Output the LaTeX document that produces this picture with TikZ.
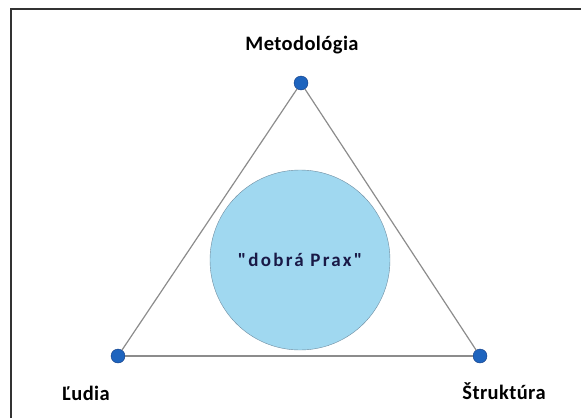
\documentclass[tikz,border=0pt]{standalone}
\usepackage{fontspec}
\setmainfont{Carlito}
\newfontfamily\spacedfont[LetterSpace=2]{Carlito}
\newfontfamily\widefont[LetterSpace=12]{Carlito}
\usetikzlibrary{positioning}
\definecolor{dotblue}{RGB}{30,100,190}
\definecolor{dotedge}{RGB}{20,60,130}
\definecolor{praxfill}{RGB}{160,216,240}
\definecolor{praxedge}{RGB}{110,140,160}
\definecolor{praxtext}{RGB}{25,25,70}
\begin{document}
\begin{tikzpicture}
  [x=1pt,y=-1pt,
    vertex/.style={
      circle, draw=dotedge, fill=dotblue,
      inner sep=0pt, minimum size=14pt
    },
    side/.style={
      draw=black!45, line width=1.2pt
    },
    caption/.style={
      font=\spacedfont\bfseries\fontsize{20.5}{22}\selectfont
    }
  ]
  \useasboundingbox (0,0) rectangle (581,418);
  \draw[line width=1.3pt, black!80] (11,418) -- (11,9) -- (581,9);
  \node[circle, draw=praxedge, fill=praxfill, minimum size=180pt,
    inner sep=0pt, text=praxtext,
    font=\widefont\bfseries\fontsize{19}{21}\selectfont] (prax) at (300,260)
    {\symbol{34}dobrá Prax\symbol{34}};
  \node[vertex] (met) at (301,83) {};
  \node[vertex] (lud) at (118,356) {};
  \node[vertex] (str) at (480,356) {};
  \draw[side] (met) -- (lud);
  \draw[side] (lud) -- (str);
  \draw[side] (str) -- (met);
  \node[caption] (metlabel) at (302,45) {Metodológia};
  \node[caption] (ludlabel) at (86,393) {Ľudia};
  \node[caption] (strlabel) at (504,391) {Štruktúra};
\end{tikzpicture}
\end{document}
